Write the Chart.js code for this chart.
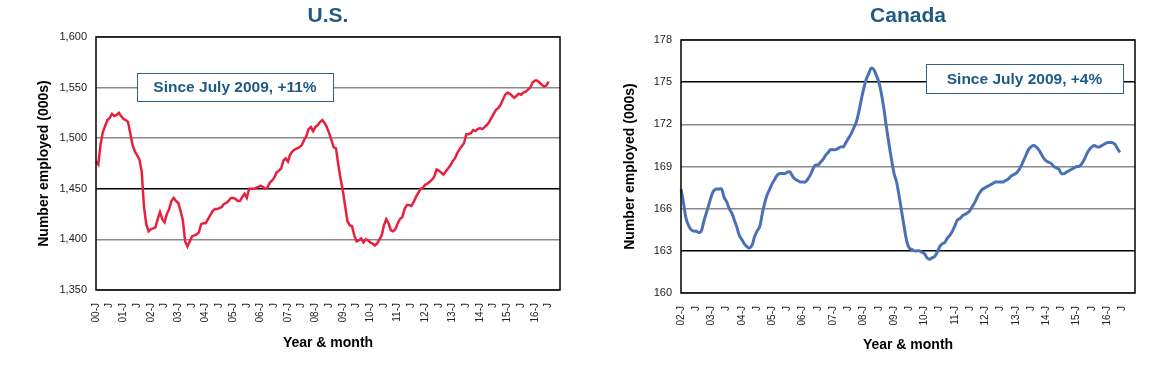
<!DOCTYPE html>
<html>
<head>
<meta charset="utf-8">
<script src="https://cdn.jsdelivr.net/npm/chart.js@4.4.0/dist/chart.umd.min.js"></script>
<style>
	html, body { margin: 0; padding: 0; background: #ffffff; }
	#wrap { position: relative; width: 1160px; height: 366px; }
	canvas { position: absolute; top: 0; }
	#chart-us { left: 0; }
	#chart-ca { left: 580px; }
</style>
</head>
<body>
<div id="wrap">
	<canvas id="chart-us" width="580" height="366"></canvas>
	<canvas id="chart-ca" width="580" height="366"></canvas>
</div>
<script>
// Month letters, Jan gets the "YY-J" form on the axis
const MONTH_LETTERS = ["J", "F", "M", "A", "M", "J", "J", "A", "S", "O", "N", "D"];

// U.S. — monthly, Jan 2000 .. Jul 2016 (000s)
const US_VALUES = [
	1477, 1474, 1494, 1506, 1512, 1518, 1520, 1524, 1522, 1523, 1525, 1522,
	1519, 1518, 1516, 1505, 1493, 1487, 1483, 1479, 1467, 1432, 1415, 1408,
	1410, 1411, 1412, 1420, 1427, 1420, 1417, 1425, 1430, 1438, 1441, 1438,
	1436, 1428, 1419, 1398, 1393, 1398, 1403, 1404, 1405, 1407, 1415, 1416,
	1416, 1420, 1424, 1428, 1430, 1430, 1431, 1432, 1435, 1436, 1438, 1441,
	1441, 1440, 1438, 1438, 1442, 1445, 1441, 1450, 1450, 1450, 1451, 1452,
	1453, 1452, 1450, 1451, 1456, 1458, 1461, 1466, 1468, 1470, 1478, 1480,
	1477, 1484, 1487, 1489, 1490, 1491, 1493, 1498, 1502, 1509, 1511, 1507,
	1511, 1513, 1516, 1518, 1515, 1511, 1505, 1498, 1491, 1490, 1474, 1460,
	1448, 1433, 1418, 1414, 1413, 1404, 1398, 1399, 1401, 1397, 1400, 1399,
	1397, 1396, 1394, 1396, 1400, 1404, 1414, 1420, 1416, 1409, 1408, 1410,
	1416, 1420, 1422, 1430, 1434, 1434, 1433, 1437, 1442, 1446, 1450, 1451,
	1454, 1455, 1457, 1459, 1462, 1469, 1468, 1466, 1464, 1467, 1470, 1473,
	1477, 1480, 1485, 1489, 1492, 1495, 1504, 1504, 1505, 1508, 1507, 1509,
	1510, 1509, 1511, 1513, 1516, 1520, 1524, 1528, 1530, 1533, 1538, 1543,
	1545, 1544, 1542, 1540, 1542, 1544, 1543, 1545, 1546, 1548, 1550, 1555,
	1557, 1557, 1555, 1553, 1551, 1552, 1556,
];

// Canada — monthly, Jan 2002 .. Jun 2016 (000s)
const CA_VALUES = [
	167.4, 166.4, 165.3, 164.8, 164.5, 164.4, 164.4, 164.3, 164.4, 165.1, 165.7, 166.3,
	166.9, 167.3, 167.4, 167.4, 167.4, 166.8, 166.5, 166.0, 165.7, 165.2, 164.7, 164.1,
	163.8, 163.5, 163.3, 163.2, 163.4, 164.0, 164.4, 164.7, 165.6, 166.4, 167.0, 167.4,
	167.8, 168.1, 168.4, 168.5, 168.5, 168.5, 168.6, 168.6, 168.3, 168.1, 168.0, 167.9,
	167.9, 167.9, 168.1, 168.4, 168.8, 169.1, 169.1, 169.3, 169.5, 169.8, 170.0, 170.2,
	170.2, 170.2, 170.3, 170.4, 170.4, 170.7, 171.0, 171.3, 171.7, 172.1, 172.8, 173.7,
	174.5, 175.2, 175.6, 176.0, 175.9, 175.5, 175.0, 174.2, 173.1, 171.8, 170.6, 169.5,
	168.5, 167.9, 166.9, 165.8, 164.7, 163.7, 163.2, 163.1, 163.0, 163.0, 163.0, 162.9,
	162.8, 162.5, 162.4, 162.5, 162.6, 162.9, 163.3, 163.5, 163.6, 163.9, 164.1, 164.4,
	164.8, 165.2, 165.3, 165.5, 165.6, 165.7, 165.9, 166.2, 166.5, 166.9, 167.2, 167.4,
	167.5, 167.6, 167.7, 167.8, 167.9, 167.9, 167.9, 167.9, 168.0, 168.1, 168.3, 168.4,
	168.5, 168.7, 169.0, 169.4, 169.8, 170.2, 170.4, 170.5, 170.4, 170.2, 169.9, 169.6,
	169.4, 169.3, 169.2, 169.0, 168.9, 168.8, 168.5, 168.5, 168.6, 168.7, 168.8, 168.9,
	169.0, 169.0, 169.2, 169.5, 169.9, 170.2, 170.4, 170.5, 170.4, 170.4, 170.5, 170.6,
	170.7, 170.7, 170.7, 170.6, 170.3, 170.0,
];

// y axis ranges / ticks
const US_Y = { min: 1350, max: 1600, step: 50, dark: [1450] };
const CA_Y = { min: 160, max: 178, step: 3, dark: [163, 175] };

const COLORS = {
	RED: "#e8203d",
	BLUE: "#4a70b6",
	NAVY: "#1e5a84",
	GRID: "#8a8a8a",
	INK: "#222222",
};

Chart.defaults.font.family = "'Liberation Sans', Arial, sans-serif";
Chart.defaults.color = COLORS.INK;

const monthLabels = (startYear, endYear) => {
	const out = [];
	for (let y = startYear; y <= endYear; y++) {
		for (let m = 0; m < 12; m++) {
			out.push(m === 0 ? String(y % 100).padStart(2, "0") + "-J" : MONTH_LETTERS[m]);
		}
	}
	return out;
};

// frame, title and "since July 2009" note
const decorPlugin = {
	id: "decor",
	afterDraw(chart, args, opts) {
		const { ctx, chartArea } = chart;
		ctx.save();
		ctx.strokeStyle = "#000";
		ctx.lineWidth = 1.5;
		ctx.strokeRect(chartArea.left, chartArea.top, chartArea.right - chartArea.left, chartArea.bottom - chartArea.top);

		ctx.fillStyle = COLORS.NAVY;
		ctx.font = "bold 21px 'Liberation Sans', Arial, sans-serif";
		ctx.textAlign = "center";
		ctx.textBaseline = "middle";
		ctx.fillText(opts.title, (chartArea.left + chartArea.right) / 2, 16);

		const b = opts.note;
		ctx.fillStyle = "#fff";
		ctx.fillRect(b.x, b.y, b.w, b.h);
		ctx.strokeStyle = "#2f6189";
		ctx.lineWidth = 1;
		ctx.strokeRect(b.x + 0.5, b.y + 0.5, b.w, b.h);
		ctx.fillStyle = COLORS.NAVY;
		ctx.font = "bold 15.5px 'Liberation Sans', Arial, sans-serif";
		ctx.fillText(b.text, b.x + b.w / 2, b.y + b.h / 2 + 1);
		ctx.restore();
	},
};

const makeChart = (el, cfg) => {
	return new Chart(el, {
		type: "line",
		data: {
			labels: cfg.labels,
			datasets: [
				{
					data: cfg.values,
					borderColor: cfg.color,
					borderWidth: cfg.width,
					pointRadius: 0,
					tension: cfg.tension,
					spanGaps: false,
				},
			],
		},
		options: {
			responsive: false,
			animation: false,
			devicePixelRatio: 1,
			layout: { padding: cfg.padding },
			plugins: {
				legend: { display: false },
				tooltip: { enabled: false },
				decor: { title: cfg.title, note: cfg.note },
			},
			scales: {
				x: {
					grid: { display: false },
					border: { display: false },
					ticks: {
						autoSkip: false,
						minRotation: 90,
						maxRotation: 90,
						padding: 5,
						font: { size: 10 },
						callback: (v, i) => (i % 6 === 0 ? cfg.labels[i] : null),
					},
					title: {
						display: true,
						text: "Year & month",
						font: { size: 14, weight: "bold" },
						color: "#000",
						padding: { top: 0, bottom: cfg.xTitlePad },
					},
					afterFit: (scale) => {
						scale.height = cfg.xHeight;
					},
				},
				y: {
					min: cfg.y.min,
					max: cfg.y.max,
					border: { display: false },
					grid: {
						drawTicks: false,
						lineWidth: 1.5,
						color: (c) => (cfg.y.dark.includes(c.tick.value) ? "#000" : COLORS.GRID),
					},
					ticks: {
						stepSize: cfg.y.step,
						padding: 9,
						font: { size: 11 },
						callback: (v) => v.toLocaleString("en-US"),
					},
					title: {
						display: true,
						text: "Number employed (000s)",
						font: { size: 14, weight: "bold" },
						color: "#000",
						padding: 0,
					},
					afterFit: (scale) => {
						scale.width = cfg.yWidth;
					},
				},
			},
		},
		plugins: [decorPlugin],
	});
};

makeChart(document.getElementById("chart-us"), {
	labels: monthLabels(2000, 2016),
	values: US_VALUES,
	color: COLORS.RED,
	width: 2.5,
	tension: 0,
	y: US_Y,
	padding: { top: 37, right: 20, left: 36, bottom: 0 },
	yWidth: 60,
	xHeight: 76,
	xTitlePad: 14,
	title: "U.S.",
	note: { x: 137, y: 73, w: 196, h: 28, text: "Since July 2009, +11%" },
});

makeChart(document.getElementById("chart-ca"), {
	labels: monthLabels(2002, 2016),
	values: CA_VALUES,
	color: COLORS.BLUE,
	width: 3,
	tension: 0.4,
	y: CA_Y,
	padding: { top: 40, right: 25, left: 42, bottom: 0 },
	yWidth: 59,
	xHeight: 73,
	xTitlePad: 12,
	title: "Canada",
	note: { x: 346, y: 64, w: 197, h: 29, text: "Since July 2009, +4%" },
});
</script>
</body>
</html>
